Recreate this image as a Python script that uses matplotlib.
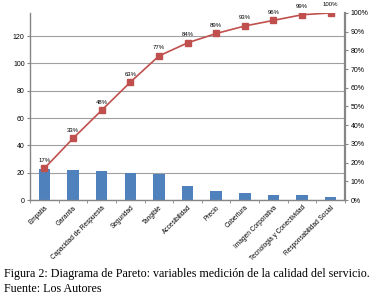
import numpy as np
import matplotlib
matplotlib.use('Agg')
import matplotlib.pyplot as plt
from matplotlib.ticker import PercentFormatter

categories = ['Empatia', 'Garantia', 'Capacidad de Respuesta', 'Seguridad', 'Tangible',
              'Accesibilidad', 'Precio', 'Cobertura', 'Imagen Corporativa',
              'Tecnologia y Conectividad', 'Responsabilidad Social']
counts = [23, 22, 21, 20, 19, 10, 7, 5, 4, 4, 2]
cum_pct = [17, 33, 48, 63, 77, 84, 89, 93, 96, 99, 100]

bar_col = '#4F81BD'
line_col = '#C0504D'
axis_col = '#868686'

plt.rcParams['font.family'] = ['Liberation Sans', 'DejaVu Sans']

fig = plt.figure(figsize=(3.77, 3.0), dpi=100)
ax = fig.add_axes([0.08, 0.333, 0.835, 0.624])
x = np.arange(len(categories))
total = sum(counts)

ax.bar(x, counts, width=0.4, color=bar_col, zorder=2)
ax.set_xlim(-0.5, len(categories) - 0.5)
ax.set_ylim(0, total)
ax.set_yticks(range(0, 121, 20))
ax.yaxis.grid(True, color='#a0a0a0', linewidth=0.8, zorder=0)
ax.tick_params(axis='y', labelsize=5, length=2, color=axis_col, pad=2)
ax.set_xticks(x)
ax.set_xticklabels(categories, rotation=45, ha='right', rotation_mode='anchor',
                   fontsize=4.7)
ax.tick_params(axis='x', length=0, pad=3)
ax.set_xticks(np.arange(-0.5, len(categories)), minor=True)
ax.tick_params(axis='x', which='minor', length=2, color=axis_col)
for s in ['top', 'right']:
    ax.spines[s].set_visible(False)
for s in ['left', 'bottom']:
    ax.spines[s].set_color(axis_col)
    ax.spines[s].set_linewidth(1.0)

ax2 = ax.twinx()
ax2.plot(x, cum_pct, color=line_col, linewidth=1.2, marker='s', markersize=4.2,
         zorder=3)
for xi, p in zip(x, cum_pct):
    ax2.annotate(f'{p}%', (xi, p), xytext=(0, 4), textcoords='offset points',
                 ha='center', va='bottom', fontsize=4.3)
ax2.set_ylim(0, 100)
ax2.set_yticks(range(0, 101, 10))
ax2.yaxis.set_major_formatter(PercentFormatter(decimals=0))
ax2.tick_params(axis='y', labelsize=5, length=2, color=axis_col, pad=2)
for s in ['top', 'left', 'bottom']:
    ax2.spines[s].set_visible(False)
ax2.spines['right'].set_color(axis_col)
ax2.spines['right'].set_linewidth(1.6)

fig.text(0.011, 0.088, 'Figura 2: Diagrama de Pareto: variables medición de la calidad del servicio.',
         family='Liberation Serif', fontsize=8.65, va='center')
fig.text(0.011, 0.035, 'Fuente: Los Autores', family='Liberation Serif', fontsize=8.65,
         va='center')

fig.savefig('out.png', dpi=100)
